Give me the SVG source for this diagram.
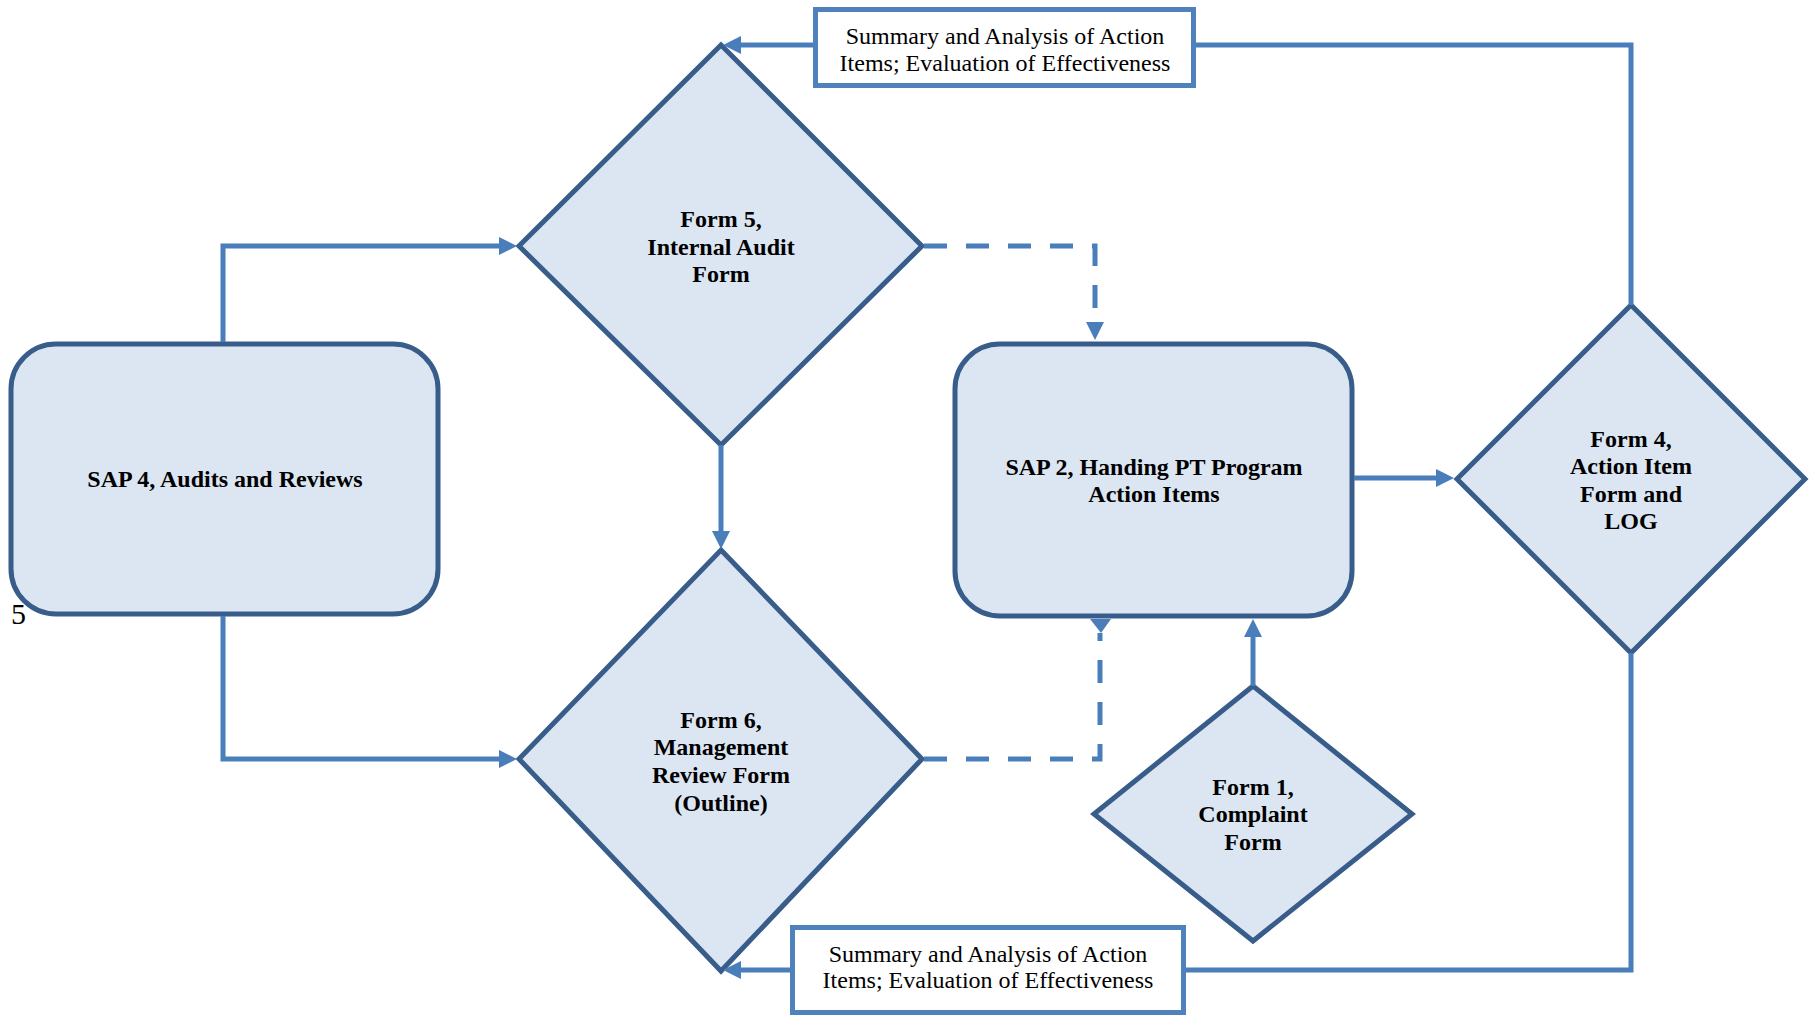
<svg xmlns="http://www.w3.org/2000/svg" width="1815" height="1018" viewBox="0 0 1815 1018">
<style>
.node{fill:#DCE6F2;stroke:#385D8A;stroke-width:5;stroke-linejoin:miter}
.box{fill:#FFFFFF;stroke:#4F81BD;stroke-width:5}
.conn{fill:none;stroke:#4A7EBB;stroke-width:5}
.dash{stroke-dasharray:23 19}
.lbl{font-family:"Liberation Serif","Times New Roman",serif;font-size:24px;font-weight:bold;fill:#000;text-anchor:middle}
.txt{font-family:"Liberation Serif","Times New Roman",serif;font-size:24px;fill:#000;text-anchor:middle}
</style>
<defs>
<marker id="arr" markerUnits="userSpaceOnUse" markerWidth="18" markerHeight="18" refX="10" refY="9" orient="auto">
<path d="M0,0 L18,9 L0,18 z" fill="#4A7EBB"/>
</marker>
</defs>
<rect x="0" y="0" width="1815" height="1018" fill="#FFFFFF"/>
<g id="sap4">
<rect class="node" x="11" y="344" width="427" height="270" rx="45" ry="45"/>
<text class="lbl" x="225" y="487">SAP 4, Audits and Reviews</text>
</g>
<g id="form5">
<polygon class="node" points="721,45 922,246 721,445 519,246"/>
<text class="lbl" x="721" y="227">Form 5,</text>
<text class="lbl" x="721" y="254.5">Internal Audit</text>
<text class="lbl" x="721" y="282">Form</text>
</g>
<g id="form6">
<polygon class="node" points="721,550 922,759 721,971 519,759"/>
<text class="lbl" x="721" y="728">Form 6,</text>
<text class="lbl" x="721" y="755">Management</text>
<text class="lbl" x="721" y="783">Review Form</text>
<text class="lbl" x="721" y="811">(Outline)</text>
</g>
<g id="sap2">
<rect class="node" x="955" y="344" width="397" height="272" rx="45" ry="45"/>
<text class="lbl" x="1154" y="475">SAP 2, Handing PT Program</text>
<text class="lbl" x="1154" y="502">Action Items</text>
</g>
<g id="form4">
<polygon class="node" points="1631,305 1805,479 1631,653 1457,479"/>
<text class="lbl" x="1631" y="447">Form 4,</text>
<text class="lbl" x="1631" y="474">Action Item</text>
<text class="lbl" x="1631" y="502">Form and</text>
<text class="lbl" x="1631" y="529">LOG</text>
</g>
<g id="form1">
<polygon class="node" points="1253,686 1412,814 1253,941 1094,814"/>
<text class="lbl" x="1253" y="795">Form 1,</text>
<text class="lbl" x="1253" y="822">Complaint</text>
<text class="lbl" x="1253" y="850">Form</text>
</g>
<g id="summaryTop">
<rect class="box" x="815.5" y="9.5" width="378" height="76"/>
<text class="txt" x="1005" y="44">Summary and Analysis of Action</text>
<text class="txt" x="1005" y="71">Items; Evaluation of Effectiveness</text>
</g>
<g id="summaryBottom">
<rect class="box" x="792.5" y="927.5" width="391" height="85"/>
<text class="txt" x="988" y="962">Summary and Analysis of Action</text>
<text class="txt" x="988" y="988">Items; Evaluation of Effectiveness</text>
</g>
<g id="connectors">
<path class="conn" d="M223,342 V246 H509" marker-end="url(#arr)"/>
<path class="conn" d="M223,616 V759 H509" marker-end="url(#arr)"/>
<path class="conn" d="M721,445 V541" marker-end="url(#arr)"/>
<path class="conn dash" d="M924,246 H1095 V332" marker-end="url(#arr)"/>
<path class="conn dash" d="M924,759 H1100 V633"/>
<polygon points="1090,619 1111,619 1101,633" fill="#4A7EBB"/>
<path class="conn" d="M1253,686 V627" marker-end="url(#arr)"/>
<path class="conn" d="M1354,478 H1446" stroke-width="6" marker-end="url(#arr)"/>
<path class="conn" d="M1631,305 V45 H1196"/>
<path class="conn" d="M813,45 H731" marker-end="url(#arr)"/>
<path class="conn" d="M1631,653 V970 H1186"/>
<path class="conn" d="M790,970 H731" marker-end="url(#arr)"/>
</g>
<text x="11" y="624" font-family="'Liberation Serif','Times New Roman',serif" font-size="30" fill="#000">5</text>
</svg>
